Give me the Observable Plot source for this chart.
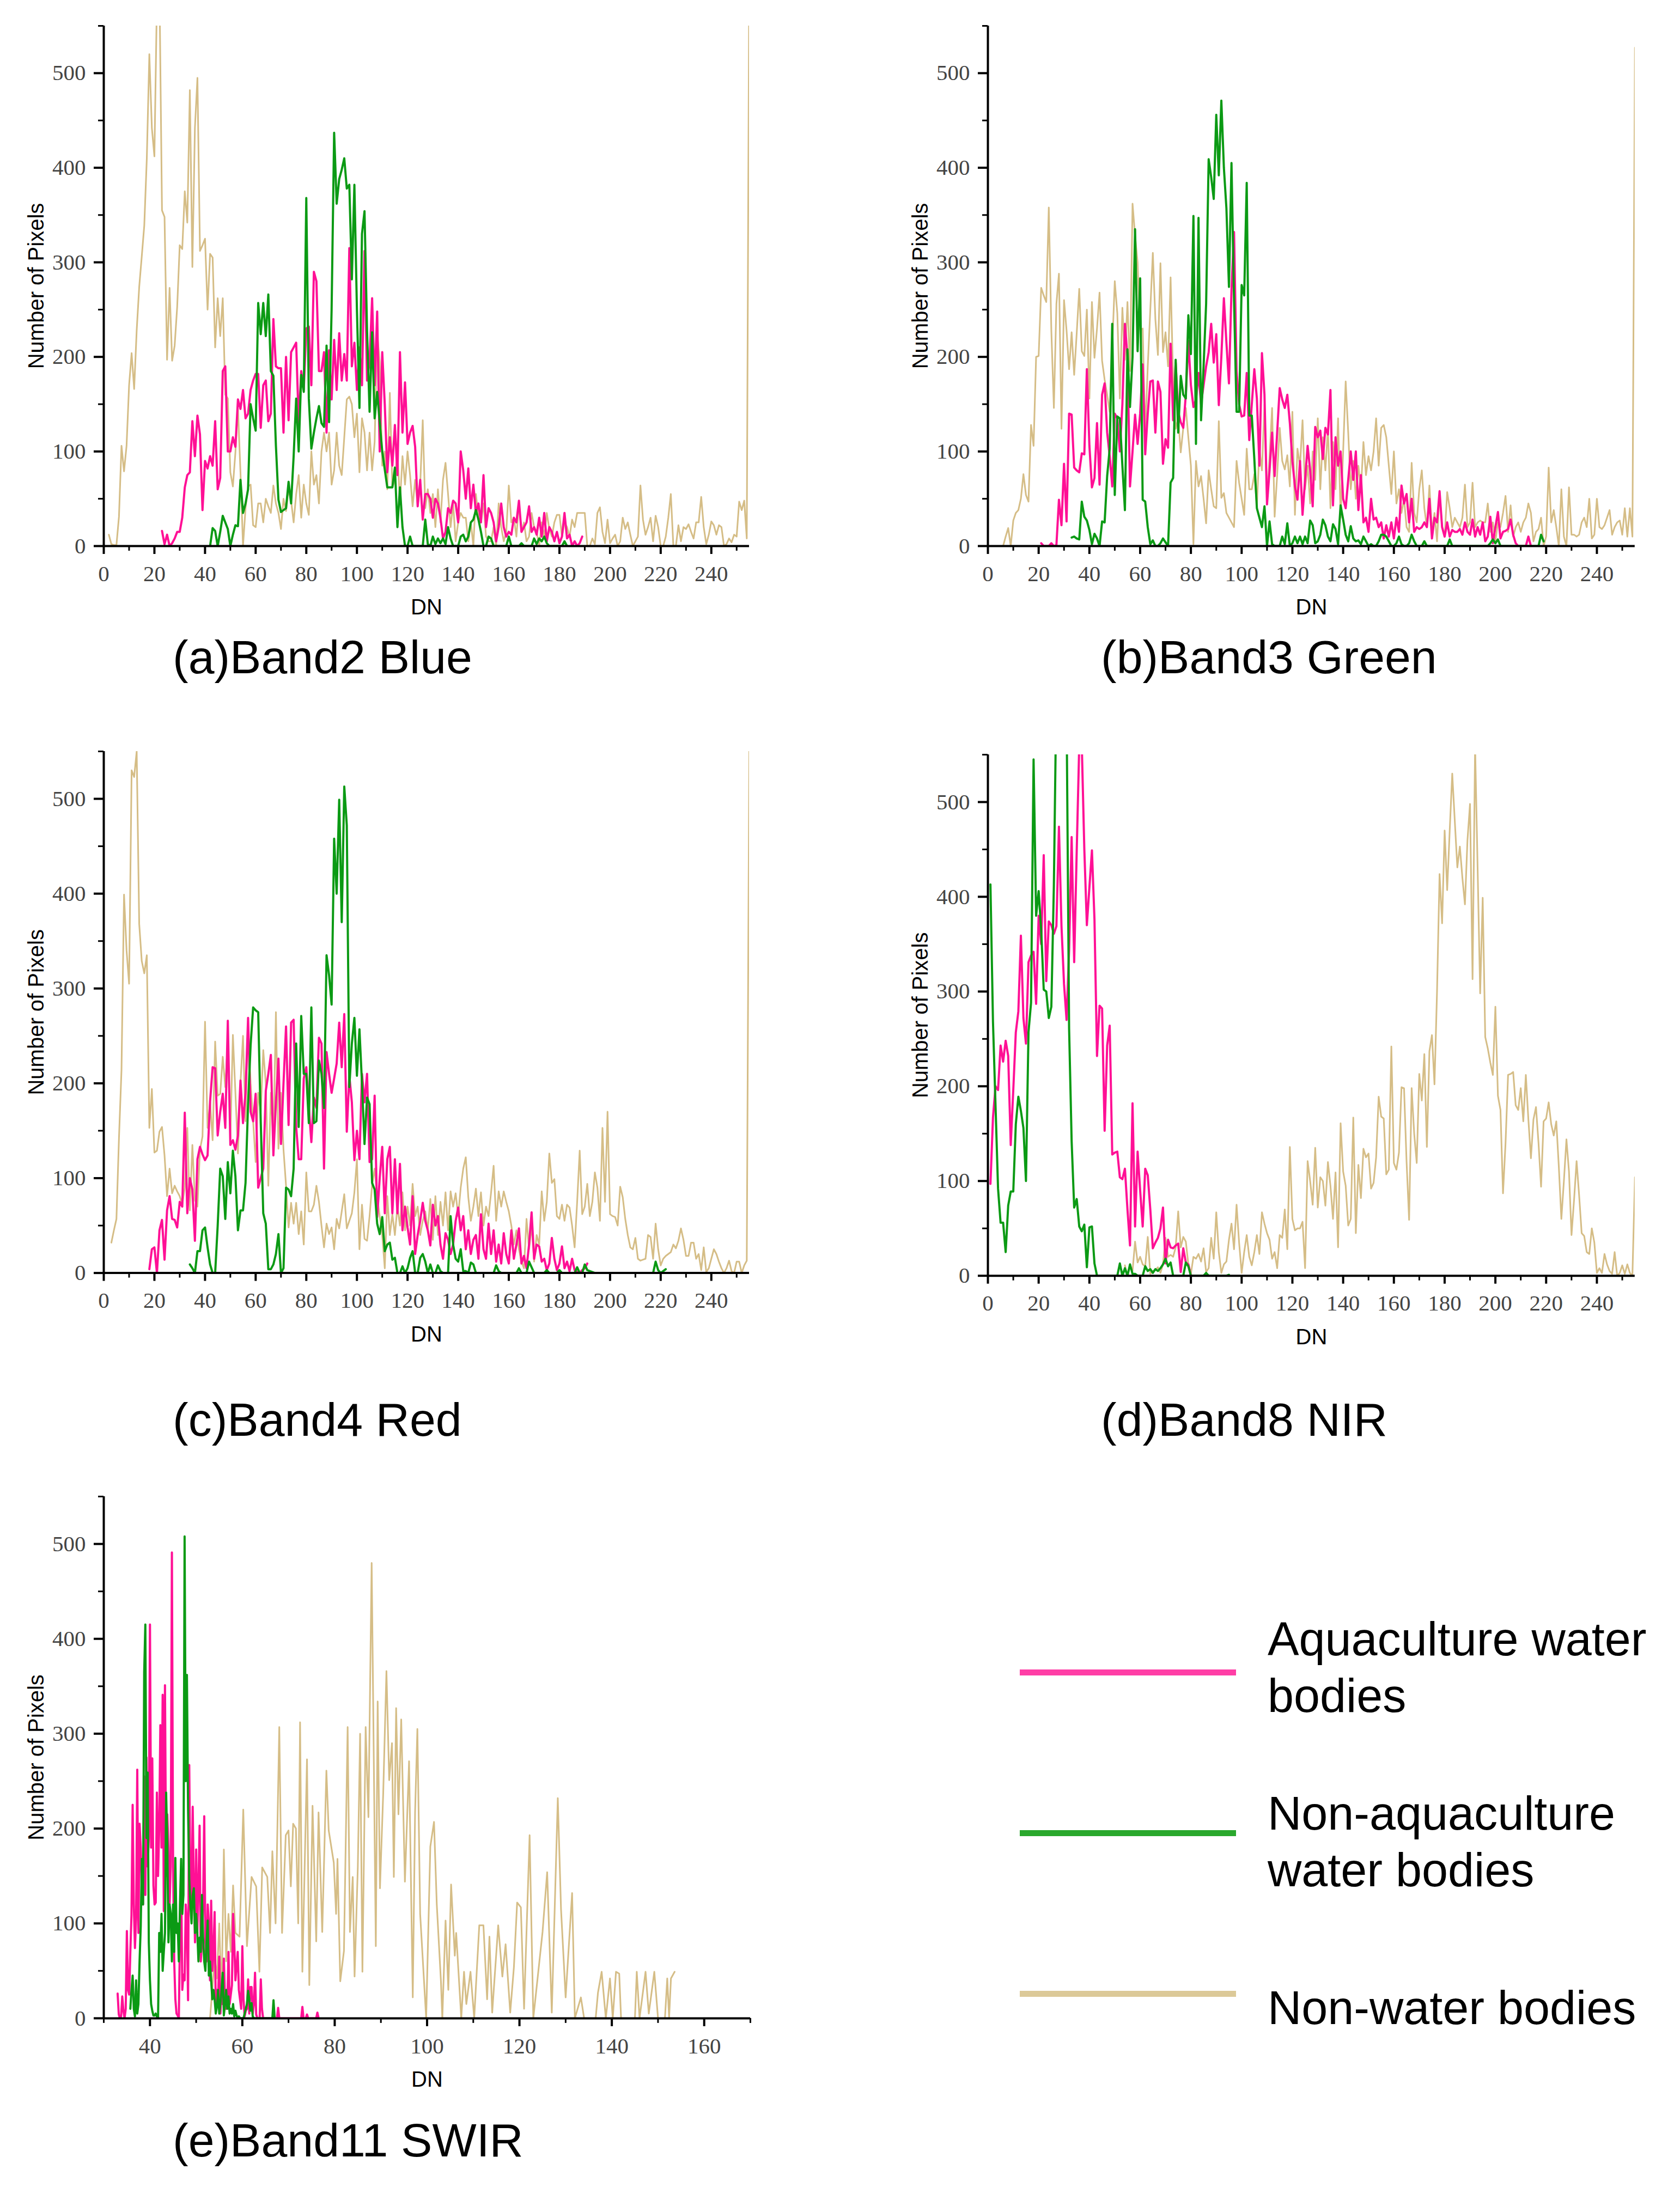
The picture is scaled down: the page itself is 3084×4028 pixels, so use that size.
<!DOCTYPE html>
<html><head><meta charset="utf-8">
<script src="https://cdn.jsdelivr.net/npm/d3@7"></script>
<script src="https://cdn.jsdelivr.net/npm/@observablehq/plot@0.6"></script>
<style>
html,body{margin:0;padding:0;background:#fff}
#page{position:relative;width:3084px;height:4028px;overflow:hidden;background:#fff}
#page svg{position:absolute;overflow:visible;max-width:none}
.cap,.leg{position:absolute;font-family:"Liberation Sans",Arial,sans-serif;line-height:1;color:#000;white-space:nowrap}
.cap{font-size:86px}
.leg{font-size:86.3px}
.swatch{position:absolute;height:11px}
</style></head><body><div id="page"></div>
<script>
const seriesNames=["Aquaculture water bodies","Non-aquaculture water bodies","Non-water bodies"];
const seriesColors=["#ff1095","#0b9a14","#d5bd86"];
const legendColors=["#ff3ea6","#2aa82d","#dcc998"];

const blueAquaStart=23;
const blueAqua=[16,2,12,0,3,8,15,15,30,62,75,78,132,95,138,118,38,90,82,95,85,132,60,72,185,190,100,100,115,105,155,145,165,135,140,165,175,182,182,125,170,175,132,140,240,190,188,188,120,200,133,205,210,215,130,185,165,230,232,170,290,280,185,185,205,120,207,155,218,165,225,175,203,175,315,190,215,165,210,170,312,175,195,262,170,248,100,205,150,78,115,85,128,75,205,120,173,108,120,127,105,42,70,28,55,55,50,30,50,45,30,8,15,40,35,48,45,25,100,80,50,82,40,65,35,45,25,75,20,40,35,25,5,20,45,20,10,15,12,30,25,48,15,20,25,42,15,20,12,30,10,35,5,20,15,5,15,3,10,35,8,12,0,5,0,3,10];
const blueOtherStart=42;
const blueOther=[0,19,16,0,15,32,25,18,0,12,22,21,70,35,45,60,150,135,122,257,224,257,222,266,185,180,106,49,36,38,40,68,45,95,156,100,181,163,368,156,103,120,135,148,130,126,212,131,250,437,362,388,398,410,378,382,282,382,250,146,330,354,228,142,226,135,163,131,100,81,62,62,62,83,20,62,20,0,0,10,0,0,0,0,0,28,2,0,10,2,8,3,8,2,20,8,0,0,0,10,12,5,10,25,28,38,28,15,0,0,10,8,0,0,0,0,0,0,10,0,0,0,0,3,0,0,0,0,8,2,8,5,10,3,0,0,0,0,0,0,5,0];
const blueLandStart=2;
const blueLand=[12,2,1,1,31,106,79,106,170,204,166,228,274,306,339,410,520,442,412,580,590,355,348,197,273,196,212,253,318,314,375,342,482,295,442,495,312,318,325,250,309,305,210,262,222,262,160,156,78,63,99,146,78,0,40,63,65,22,20,45,45,25,50,42,35,64,45,35,18,50,37,60,48,25,55,75,30,65,45,33,100,65,75,45,100,120,100,120,65,80,120,85,75,115,155,158,150,115,140,78,135,120,80,120,80,110,225,195,85,100,60,162,62,70,100,45,95,65,100,75,42,70,42,65,133,40,60,35,55,20,60,25,70,88,55,20,45,5,25,35,30,30,5,25,0,55,30,25,45,10,5,5,20,0,45,20,5,15,64,25,30,10,45,15,25,5,10,35,20,15,0,25,10,35,18,10,25,33,33,10,25,20,10,28,20,35];
const blueLandTailStart=190;
const blueLandTail=[35,0,0,8,2,35,41,15,3,28,3,8,12,0,5,30,18,25,12,0,5,10,64,28,12,20,30,5,32,20,0,0,10,30,55,0,0,22,5,20,18,23,15,8,25,25,52,20,2,12,26,22,12,22,20,0,2,8,4,12,10,47,38,48,8,620];

const greenAquaStart=21;
const greenAqua=[3,0,0,0,3,0,1,49,22,87,26,140,139,83,80,78,98,97,187,106,62,72,130,65,160,172,120,95,63,140,135,100,150,235,200,63,100,139,108,140,192,97,140,174,175,120,174,163,87,113,104,214,133,194,142,131,125,160,217,170,147,155,183,150,170,190,205,235,194,224,149,200,262,215,172,271,332,185,150,137,138,183,112,150,187,156,85,204,160,44,80,120,74,120,167,155,146,160,130,90,63,49,90,33,70,106,80,42,126,115,122,92,125,118,165,43,115,85,100,50,40,70,100,70,100,38,75,25,30,15,50,28,30,20,25,8,22,10,25,8,30,15,64,45,55,25,50,15,20,18,20,25,20,50,8,30,25,58,20,10,25,10,17,15,15,18,12,25,15,12,28,10,20,12,25,5,10,31,3,20,36,8,15,16,18,28,12,3,0,0,0,0,10,0];
const greenOtherStart=33;
const greenOther=[9,10,8,7,47,31,27,17,2,13,8,0,26,25,74,103,235,54,137,135,85,38,208,147,200,335,206,283,49,47,20,2,6,0,0,3,8,4,0,67,72,197,120,180,160,156,244,203,349,108,347,133,190,256,409,390,367,456,392,471,400,357,274,405,260,142,142,276,265,384,138,138,92,40,30,20,42,0,26,2,0,0,0,10,2,24,0,3,10,3,10,2,10,3,27,22,3,5,12,28,22,10,5,23,18,2,43,28,12,5,21,8,5,6,2,10,5,0,2,0,0,5,12,12,10,5,0,0,3,10,2,0,0,3,12,5,0,0,0,5,0,0,0,0,0,0,0,0,0,7,0,0,0,0,0,0,0,0,0,0,0,0,0,0,0,3,7,3,7,0,0,0,0,0,0,0,0,0,0,0,0,0,0,0,0,12,5];
const greenLandStart=6;
const greenLand=[0,10,19,0,27,35,38,50,76,54,47,128,106,200,201,273,265,258,358,228,146,256,288,124,260,228,187,226,181,225,272,206,201,250,156,258,199,230,268,196,176,160,142,210,280,246,156,252,197,258,185,362,328,300,229,230,120,190,250,310,240,202,299,205,226,190,284,175,124,135,99,125,146,115,85,2,90,63,74,50,24,80,60,42,40,132,51,56,35,30,25,20,90,67,50,33,103,60,60,76,42,103,80,150,45,95,146,31,75,125,90,81,96,63,142,33,103,85,133,60,85,45,100,70,135,60,115,80,125,40,110,60,135,30,100,174,120,60,90,50,85,60,110,75,95,80,100,135,85,125,128,115,85,55,100,45,60,35,50,20,15,88,35,25,60,80,40,20,64,15,35,5,57,20,10,57,40,20,30,25,20,30,65,20,25,67,20,25,27,25,25,45,15,25,5,25,20,35,53,15,43,10,20,25,15,25,30,45,35,5,15,18,30,0,10,83,25,38,20,0,60,10,0,62,12,12,10,12,25,30,20,50,8,12,50,20,18,22,30,38,12,20,25,27,12,40,10,40,10,527];

const redAquaStart=18;
const redAqua=[4,25,27,0,45,56,14,66,81,57,56,48,75,70,169,63,100,88,34,120,133,125,119,124,181,217,216,145,170,189,153,266,135,140,130,145,203,158,190,269,170,160,189,90,100,110,192,210,230,124,180,226,136,200,260,156,264,267,154,120,120,205,217,175,138,185,174,248,242,110,233,210,190,205,221,264,217,273,149,208,180,119,150,120,210,180,210,117,120,187,59,100,133,63,120];
const redAquaTailStart=113;
const redAquaTail=[133,63,120,63,115,45,70,48,30,81,20,40,55,74,55,45,29,72,50,60,30,15,42,35,20,30,55,69,45,60,25,45,20,35,40,15,62,25,15,52,20,45,12,30,10,42,20,10,45,15,30,47,10,18,5,30,64,15,30,28,12,15,3,10,37,15,3,10,28,5,12,2,15,3,1,0,3,5,10];
const redOtherStart=34;
const redOther=[9,5,0,23,23,45,48,27,9,0,0,50,110,102,57,117,84,129,102,45,66,66,95,178,240,280,277,275,160,63,52,4,4,9,20,41,0,5,90,88,81,110,242,154,271,210,210,158,280,158,160,224,210,174,335,314,283,458,400,499,370,513,472,196,242,269,208,257,200,136,185,178,95,88,52,41,59,23,30,32,14,16,0,0,7,0,5,16,23,0,0,16,20,12,0,9,0,0,8,2,0,0,0,60,30,15,12,25,2,2,0,11,9,0,0,0,0,0,0,0,0,8,2,0,0,0,0,0,0,0,5,0,0,0,12,6,0,0,0,0,0,3,0,0,0,0,3,0,0,0,0,0,0,6,0,0,9,3];
const redOtherTailDN=[194,217,218,219,220,221,222];
const redOtherTail=[0,0,12,3,0,2,4];
const redLandStart=3;
const redLand=[32,45,57,142,214,399,340,305,530,523,550,368,329,316,335,153,194,127,129,149,154,124,81,110,84,92,86,81,72,90,153,66,135,77,70,130,144,265,153,180,140,244,187,189,228,196,245,142,251,190,126,200,250,160,264,200,160,117,190,170,235,200,92,190,138,275,131,190,130,92,48,74,52,74,41,65,30,106,65,65,72,92,75,50,27,52,41,48,25,57,47,65,83,47,55,63,85,120,25,72,36,34,60,93,110,80,60,40];
const redLandTailStart=111;
const redLandTail=[5,81,40,62,40,70,50,85,45,70,50,94,60,70,40,55,65,45,78,35,81,40,75,50,85,45,86,70,84,60,90,110,122,80,55,70,89,60,85,50,70,60,85,113,55,86,70,86,75,65,50,30,45,25,12,5,57,25,50,12,40,30,86,55,75,126,95,99,60,57,72,55,72,69,50,27,75,129,62,70,94,60,75,106,90,55,153,75,170,62,60,59,50,91,80,57,40,27,25,37,15,13,14,15,40,38,15,52,25,8,15,18,20,22,30,26,34,47,35,18,18,32,32,15,20,3,27,1,5,15,25,20,12,5,0,5,13,2,0,12,12,0,8,13,555];

const nirAquaStart=1;
const nirAqua=[97,167,200,196,243,226,248,232,138,196,257,279,359,272,245,331,338,342,287,380,350,444,311,374,370,361,369,474,369,308,270,344,463,331,448,560,560,450,370,410,449,376,232,285,282,153,243,264,128,130,131,104,102,113,70,32,182,52,131,90,52,113,106,70,29,35,40,50,72,13,38,30,29,32,34,4,29,14,12,0,0];
const nirOtherStart=1;
const nirOther=[413,268,180,92,56,56,25,74,89,89,160,189,174,156,100,257,288,545,380,406,365,302,300,272,284,412,620,700,700,700,600,261,142,72,81,52,47,54,9,51,52,13,0,0,0,0,0,0,0,0,0,13,0,8,0,12,2,2,0,0,0,10,5,7,3,7,5,8,12,18,10,14,0,0,0,0,0,14,10,0,0,0,0,0,0,3,0,0,0,0,0,0,0,0,1];
const nirLandStart=54;
const nirLand=[11,0,10,5,36,14,20,12,10,41,2,5,6,9,3,12,40,20,22,20,30,68,30,41,36,12,2,20,18,23,15,29,4,8,40,18,67,25,3,12,15,38,55,28,75,35,3,25,43,20,11,25,43,23,67,55,45,38,18,25,8,43,40,70,28,136,60,48,50,50,57,8,121,100,75,135,72,104,100,74,120,95,60,109,30,161,110,95,53,60,167,45,117,82,134,125,129,92,98,125,189,168,166,107,112,242,119,112,130,199,198,120,59,198,150,119,213,185,234,136,237,254,202,300,424,372,470,407,470,530,480,431,453,420,392,460,498,313,560,430,298,399,252,240,225,212,284,190,175,87,140,212,213,215,180,175,198,163,212,165,124,165,178,140,94,163,166,183,160,148,163,115,60,100,144,110,43,80,121,85,45,42,25,23,50,35,3,8,3,23,12,5,2,25,0,3,11,2,12,3,0,104];

const swirAquaStart=33;
const swirAqua=[26,4,0,2,23,8,0,10,92,30,25,70,109,225,120,74,105,262,90,205,180,130,120,255,130,275,160,190,415,180,274,140,120,122,238,150,200,309,180,341,113,351,150,215,180,120,160,491,167,60,20,5,3,0,90,150,30,46,40,120,100,19,267,130,120,223,140,80,178,90,140,203,60,80,120,213,80,60,120,100,40,124,50,70,112,12,30,20,65,5,30,15,63,20,10,12,70,15,25,35,110,80,40,55,70,30,20,10,76,20,2,8,10,41,5,33,33,5,15,48,4,0,0,0,41,10,0,0];
const swirAquaTailDN=[65,67.5,67.75,68,72.75,73,73.25,73.75,74,74.25,76,76.25,76.5];
const swirAquaTail=[0,0,11,0,0,12,0,0,4,0,0,6,0];
const swirOtherStart=35.75;
const swirOther=[10,30,45,10,2,40,5,15,60,97,168,120,365,415,190,259,80,40,15,8,3,3,5,2,0,90,70,110,50,70,90,238,185,80,120,110,60,120,70,169,90,100,60,120,168,110,130,508,250,362,220,147,120,100,130,137,90,110,90,60,85,70,130,85,60,50,80,103,45,60,40,20,30,20,5,12,30,5,15,30,48,3,15,30,10,23,5,10,5,15,2,8,3,0,2,0,0,0,0,5,10,15,29,20,8,16,2,0,0];
const swirOtherTailDN=[66.5,66.75,67];
const swirOtherTail=[0,19,0];
const swirLandDN=[53,53.5,54,54.5,55,55.5,56,56.5,57,57.5,58,58.5,59.4,60.2,61,62,63,63.7,64.3,65.4,66,66.5,67.2,68,68.6,69.4,70,70.5,71,71.6,72.1,72.5,73,74,74.5,75.2,76,76.5,77.3,78.2,78.7,79.8,80.3,80.6,81.2,82,82.8,83.3,83.9,84.3,85,85.5,86,86.7,87.3,88,88.9,89.3,89.8,90.5,91.2,91.8,92.4,92.8,93.3,93.8,94.4,95.2,96.1,96.9,97.4,97.9,98.5,99.8,100.7,101.5,102.1,103,103.3,104,104.6,105.2,106,106.3,107.4,108,108.5,109.4,110.2,111.3,112.2,113,113.5,114.1,115.4,116.3,117,118,118.8,119.5,120.3,121,122.2,123,125,126,127,128.3,129,130,131.4,132,133.3,134,136.5,137,137.8,138.7,139.6,140.2,140.9,141.6,142,145,145.4,146,147.3,148,149.2,150,151.5,152,152.4,152.8,153.6];
const swirLand=[0,30,66,42,100,20,178,60,110,70,140,90,86,220,76,149,139,49,159,149,90,176,100,307,90,193,198,139,205,200,100,312,49,273,35,224,81,217,91,261,198,164,110,168,39,71,307,91,149,44,159,300,49,307,212,480,76,334,137,237,366,251,290,149,327,215,315,144,271,22,217,305,110,0,181,207,120,39,0,103,30,141,66,90,0,49,15,49,0,98,98,20,86,6,98,44,78,6,54,122,117,10,193,0,91,154,6,232,115,22,132,0,22,0,0,27,49,0,42,0,49,47,0,0,49,0,49,5,49,0,0,42,0,42,49];

const seq=(start,vals,step=1)=>vals.map((n,i)=>({dn:start+i*step,n}));
const pairs=(dns,vals)=>dns.map((dn,i)=>({dn,n:vals[i]}));
const withTail=(start,vals,tailStart,tail)=>seq(start,vals).filter(d=>d.dn<tailStart).concat(seq(tailStart,tail));

const yMajor=[0,100,200,300,400,500],yMinor=[50,150,250,350,450,550];
const xMajorFull=d3.range(0,241,20),xMinorFull=d3.range(10,251,20);
const xMajorSwir=d3.range(40,161,20),xMinorSwir=d3.range(30,171,20);
const serif='"Liberation Serif","Times New Roman",serif',sans='"Liberation Sans",Arial,sans-serif';

function panel({left,width,xStart,xEnd,plotTop,plotBottom,domain,major,minor,aqua,other,land,caption,capLeft,capBase}){
  const svgTop=plotTop-47;
  const marginLeft=190,marginBottom=140;
  const height=plotBottom-svgTop+marginBottom;
  const chart=Plot.plot({
    width,height,marginLeft,marginRight:width-(xEnd-xStart)-marginLeft,marginTop:47,marginBottom,
    x:{domain,axis:null},y:{domain:[0,550],axis:null},
    marks:[
      Plot.line(land,{x:"dn",y:"n",stroke:seriesColors[2],strokeWidth:3,clip:true,curve:"linear"}),
      Plot.line(aqua,{x:"dn",y:"n",stroke:seriesColors[0],strokeWidth:4,clip:true,curve:"linear"}),
      Plot.line(other,{x:"dn",y:"n",stroke:seriesColors[1],strokeWidth:4,clip:true,curve:"linear"}),
      Plot.ruleY([0],{stroke:"#000",strokeWidth:4}),
      Plot.ruleX([domain[0]],{stroke:"#000",strokeWidth:4}),
      Plot.axisY({ticks:yMajor,tickSize:18,tickPadding:15,label:null,stroke:"#000",strokeWidth:4,fill:"#444",fontSize:41,fontFamily:serif}),
      Plot.axisY({ticks:yMinor,tickSize:10,label:null,stroke:"#000",strokeWidth:3,fill:"none"}),
      Plot.axisX({ticks:major,tickSize:15,tickPadding:20,label:null,stroke:"#000",strokeWidth:4,fill:"#444",fontSize:41,fontFamily:serif}),
      Plot.axisX({ticks:minor,tickSize:9,label:null,stroke:"#000",strokeWidth:3,fill:"none"}),
      Plot.text(["Number of Pixels"],{frameAnchor:"left",dx:-123,rotate:-90,textAnchor:"middle",lineAnchor:"middle",fontSize:40,fontFamily:sans,fill:"#000"}),
      Plot.text(["DN"],{frameAnchor:"bottom",dy:113,lineAnchor:"middle",fontSize:40,fontFamily:sans,fill:"#000"})
    ]
  });
  chart.style.left=left+"px";chart.style.top=svgTop+"px";
  page.appendChild(chart);
  const c=document.createElement("div");c.className="cap";c.textContent=caption;
  c.style.left=capLeft+"px";c.style.top=(capBase-72)+"px";page.appendChild(c);
}
const page=document.getElementById("page");
const L={left:0,width:1500,xStart:190,xEnd:1375,capLeft:317};
const R={left:1623,width:1461,xStart:190,xEnd:1377.8,capLeft:2021};
panel({...L,plotTop:47,plotBottom:1002,domain:[0,255],major:xMajorFull,minor:xMinorFull,
  aqua:seq(blueAquaStart,blueAqua),other:seq(blueOtherStart,blueOther),land:withTail(blueLandStart,blueLand,blueLandTailStart,blueLandTail),caption:"(a)Band2 Blue",capBase:1235});
panel({...R,plotTop:47,plotBottom:1002,domain:[0,255],major:xMajorFull,minor:xMinorFull,
  aqua:seq(greenAquaStart,greenAqua),other:seq(greenOtherStart,greenOther),land:seq(greenLandStart,greenLand),caption:"(b)Band3 Green",capBase:1235});
panel({...L,plotTop:1379,plotBottom:2336.6,domain:[0,255],major:xMajorFull,minor:xMinorFull,
  aqua:withTail(redAquaStart,redAqua,redAquaTailStart,redAquaTail),other:seq(redOtherStart,redOther).filter(d=>d.dn<194).concat(pairs(redOtherTailDN,redOtherTail)),land:withTail(redLandStart,redLand,redLandTailStart,redLandTail),caption:"(c)Band4 Red",capBase:2635});
panel({...R,plotTop:1385,plotBottom:2341.7,domain:[0,255],major:xMajorFull,minor:xMinorFull,
  aqua:seq(nirAquaStart,nirAqua),other:seq(nirOtherStart,nirOther),land:seq(nirLandStart,nirLand),caption:"(d)Band8 NIR",capBase:2635});
panel({...L,width:1500,xEnd:1377,plotTop:2746.6,plotBottom:3704.5,domain:[30,170],major:xMajorSwir,minor:xMinorSwir,
  aqua:seq(swirAquaStart,swirAqua,0.25).concat(pairs(swirAquaTailDN,swirAquaTail)),
  other:seq(swirOtherStart,swirOther,0.25).concat(pairs(swirOtherTailDN,swirOtherTail)),
  land:pairs(swirLandDN,swirLand),caption:"(e)Band11 SWIR",capBase:3958});

const legendRows=[
  {y:3070,lines:[["Aquaculture water",3036.6],["bodies",3141]]},
  {y:3365.5,lines:[["Non-aquaculture",3357],["water bodies",3461]]},
  {y:3660.6,lines:[["Non-water bodies",3714]]}
];
legendRows.forEach((r,i)=>{
  const s=document.createElement("div");s.className="swatch";
  s.style.cssText=`left:1872px;width:397px;top:${r.y-5.5}px;background:${legendColors[i]}`;
  s.title=seriesNames[i];page.appendChild(s);
  r.lines.forEach(([t,b])=>{
    const d=document.createElement("div");d.className="leg";d.textContent=t;
    d.style.left="2327px";d.style.top=(b-71)+"px";page.appendChild(d);
  });
});
</script></body></html>
